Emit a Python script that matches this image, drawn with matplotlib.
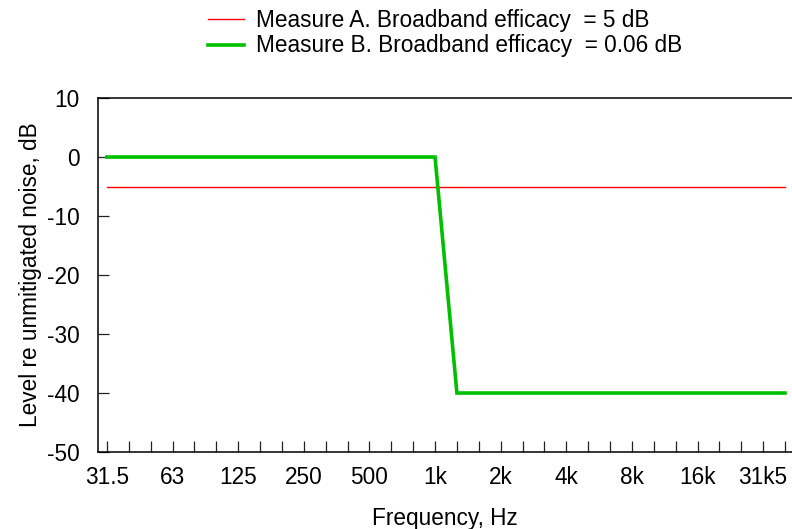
import matplotlib
matplotlib.use('Agg')
import matplotlib.pyplot as plt

# third-octave band centres, 31.5 Hz .. 40 kHz
bands = ['31.5', '40', '50', '63', '80', '100', '125', '160', '200', '250',
         '315', '400', '500', '630', '800', '1k', '1k25', '1k6', '2k', '2k5',
         '3k15', '4k', '5k', '6k3', '8k', '10k', '12k5', '16k', '20k', '25k',
         '31k5', '40k']
measure_a = [-5] * 32
measure_b = [0] * 16 + [-40] * 16
label_a = 'Measure A. Broadband efficacy  = 5 dB'
label_b = 'Measure B. Broadband efficacy  = 0.06 dB'
yticks = [10, 0, -10, -20, -30, -40, -50]

plt.rcParams['font.family'] = ['Liberation Sans', 'DejaVu Sans']
plt.rcParams['axes.unicode_minus'] = False

fig = plt.figure(figsize=(7.92, 5.29), dpi=100)
ax = fig.add_axes([0.1237, 0.1455, 0.8763, 0.6692])

x = list(range(len(bands)))
ax.plot(x, measure_a, color='#ff0000', lw=1.0, label=label_a)
ax.plot(x, measure_b, color='#00c000', lw=2.6, label=label_b,
        solid_joinstyle='miter')

ax.set_xlim(-0.41, 31.32)
ax.set_ylim(-50, 10)
ax.set_xticks(x)
ax.set_xticklabels([b if i % 3 == 0 else '' for i, b in enumerate(bands)])
ax.set_yticks(yticks)
ax.tick_params(axis='both', direction='in', length=8, width=0.9,
               labelsize=16.3, pad=10, color='#222222')
ax.tick_params(axis='y', pad=13)

ax.spines['right'].set_visible(False)
for s in ('left', 'top', 'bottom'):
    ax.spines[s].set_linewidth(1.1)

ax.set_xlabel('Frequency, Hz', fontsize=16.3, labelpad=13)
ax.set_ylabel('Level re unmitigated noise, dB', fontsize=16.3, labelpad=4)

fig.legend(loc='upper center', bbox_to_anchor=(0.562, 1.022), frameon=False,
           fontsize=16.3, handlelength=1.6, handletextpad=0.5,
           labelspacing=0.12)

fig.savefig('out.png', dpi=100)
